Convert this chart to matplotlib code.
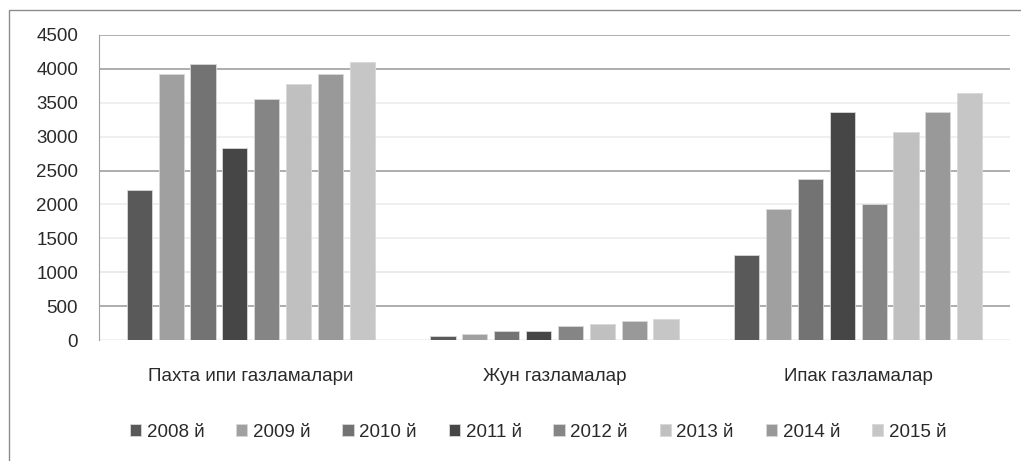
import numpy as np
import matplotlib
matplotlib.use("Agg")
import matplotlib.pyplot as plt
from matplotlib.patches import Rectangle

plt.rcParams['font.family'] = ['Liberation Sans', 'DejaVu Sans']

categories = ['Пахта ипи газламалари', 'Жун газламалар', 'Ипак газламалар']
years = ['2008 й', '2009 й', '2010 й', '2011 й', '2012 й', '2013 й', '2014 й', '2015 й']
values = [
    [2220, 60, 1250],   # 2008
    [3930, 90, 1940],   # 2009
    [4070, 140, 2380],  # 2010
    [2840, 140, 3370],  # 2011
    [3560, 200, 2010],  # 2012
    [3780, 230, 3070],  # 2013
    [3930, 280, 3370],  # 2014
    [4100, 310, 3650],  # 2015
]
colors = ['#595959', '#a0a0a0', '#737373', '#464646', '#858585', '#c0c0c0', '#999999', '#c6c6c6']

fig = plt.figure(figsize=(10.21, 4.61), dpi=100)
# outer chart border
fig.patches.append(Rectangle((9 / 1021, -0.05), 1.1, 1 - 10 / 461 + 0.05,
                             transform=fig.transFigure, fill=False,
                             edgecolor='#8c8c8c', linewidth=1.0))

ax = fig.add_axes([99 / 1021, 1 - 340 / 461, (1010 - 99) / 1021, (340 - 35) / 461])

x = np.arange(len(categories))
step = 0.105
width = 0.083
for i, (yr, vals) in enumerate(zip(years, values)):
    off = (i - 3.5) * step
    ax.bar(x + off, vals, width, color=colors[i], label=yr, zorder=3,
           edgecolor='#d8d8d8', linewidth=0.6)

ax.set_xlim(-0.5, 2.5)
ax.set_ylim(0, 4500)
ax.set_yticks(np.arange(0, 4501, 500))
ax.set_xticks(x)
ax.set_xticklabels(categories)

grid_cols = {0: '#eeeeee', 500: '#a0a0a0', 1000: '#e6e6e6', 1500: '#ececec', 2000: '#ececec',
             2500: '#a0a0a0', 3000: '#ececec', 3500: '#ececec', 4000: '#a0a0a0', 4500: '#a0a0a0'}
for v, c in grid_cols.items():
    ax.axhline(v, color=c, linewidth=1.2, zorder=1)

for s in ['top', 'right', 'bottom']:
    ax.spines[s].set_visible(False)
ax.spines['left'].set_color('#a0a0a0')
ax.tick_params(axis='both', length=0, labelsize=13.5, colors='#2a2a2a')
ax.tick_params(axis='y', pad=15)
ax.tick_params(axis='x', pad=20)

leg = fig.legend(loc='center', bbox_to_anchor=(538 / 1021, 1 - 432 / 461), ncol=8,
                 frameon=False, fontsize=13.5, handlelength=0.6, handleheight=0.6,
                 handletextpad=0.3, columnspacing=1.7)
for t in leg.get_texts():
    t.set_color('#2a2a2a')

fig.savefig('out.png', dpi=100)
